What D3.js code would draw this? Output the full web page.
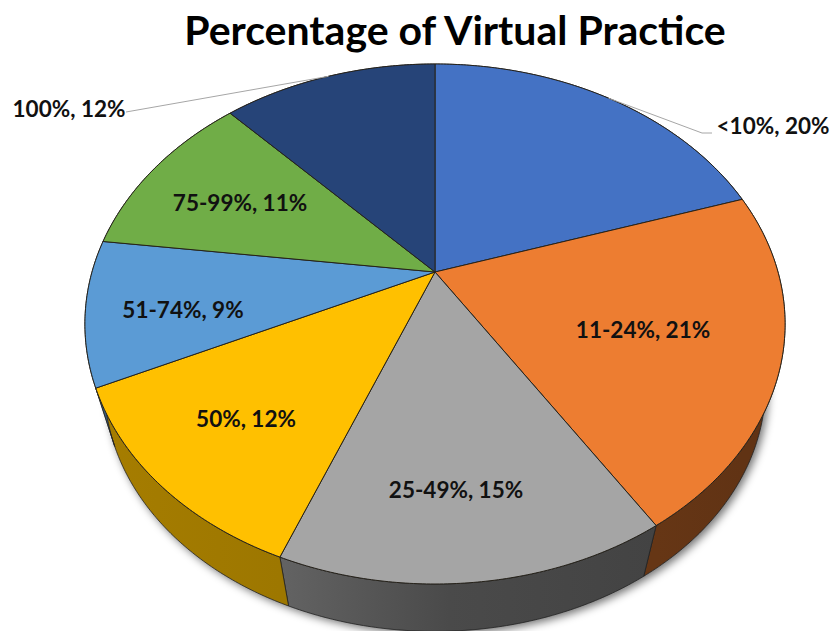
<!DOCTYPE html>
<html><head><meta charset="utf-8">
<script src="https://cdn.jsdelivr.net/npm/d3@7/dist/d3.min.js"></script>
<style>html,body{margin:0;padding:0;background:#fff}svg{display:block}</style>
</head><body><div id="c"></div>
<script>
const title = "Percentage of Virtual Practice";
const categories = ["<10%","11-24%","25-49%","50%","51-74%","75-99%","100%"];
const values = [20,21,15,12,9,11,12];
const colors = ["#4472C4","#ED7D31","#A5A5A5","#FFC000","#5B9BD5","#70AD47","#264478"];
const wallLight = [0.6,0.43,0.6,0.65,0.6,0.6,0.6];

const W=832,H=631;
const cx=435,cy=272,a=343,b=249.6,k=-0.2;
const vpY=1430,wallScale=0.944;
const labelPos=[[773,125],[643,329],[456,489],[246,418],[183,309],[240,202],[69,108]];
const leaderElbow=[[702,133],null,null,null,null,null,[126,112]];

// Unit-circle to screen: perspective projection of the pie's top face
const proj=(t,r=1)=>{const u=r*Math.sin(t),v=-r*Math.cos(t),d=1+k*v;return [cx+a*u/d,cy+b*v/d];};
const lower=p=>[cx+wallScale*(p[0]-cx),vpY+wallScale*(p[1]-vpY)];
const arcPts=(s,e)=>{const n=Math.max(2,Math.ceil((e-s)/0.01));return d3.range(n+1).map(i=>proj(s+(e-s)*i/n));};
const line=d3.line();

const svg=d3.select("#c").append("svg").attr("width",W).attr("height",H);
const defs=svg.append("defs");
const fl=defs.append("filter").attr("id","sh").attr("x","-10%").attr("y","-10%").attr("width","120%").attr("height","120%");
fl.append("feGaussianBlur").attr("stdDeviation",4);
const slices=d3.pie().sort(null).value(d=>d)(values);

slices.forEach((d,i)=>{
  const g=defs.append("linearGradient").attr("id","w"+i).attr("gradientUnits","userSpaceOnUse")
    .attr("x1",proj(d.endAngle)[0]).attr("x2",proj(d.startAngle)[0]).attr("y1",0).attr("y2",0);
  const c=d3.rgb(colors[i]),m=f=>d3.rgb(c.r*f,c.g*f,c.b*f);
  const grayWall=i===2;
  g.append("stop").attr("offset",0).attr("stop-color",m(wallLight[i]));
  g.append("stop").attr("offset",grayWall?0.45:1).attr("stop-color",m(wallLight[i]*(grayWall?0.75:0.95)));
  g.append("stop").attr("offset",1).attr("stop-color",m(wallLight[i]*(grayWall?0.68:0.95)));
});

// soft shadow under the base
svg.append("path")
  .attr("d",line(arcPts(0,2*Math.PI).map(lower))+"Z")
  .attr("transform","translate(3,3)")
  .attr("fill","#000").attr("fill-opacity",0.55).attr("filter","url(#sh)");

// walls
svg.append("g").selectAll("path").data(slices).join("path")
  .attr("d",d=>{const t=arcPts(d.startAngle,d.endAngle);return line(t.concat(t.map(lower).reverse()))+"Z";})
  .attr("fill",(d,i)=>`url(#w${i})`).attr("stroke","#222").attr("stroke-width",0.8).attr("stroke-linejoin","round");

// top faces
svg.append("g").selectAll("path").data(slices).join("path")
  .attr("d",d=>line([[cx,cy]].concat(arcPts(d.startAngle,d.endAngle)))+"Z")
  .attr("fill",(d,i)=>colors[i]).attr("stroke","#26221a").attr("stroke-width",1).attr("stroke-linejoin","round");

// leaders
svg.append("g").selectAll("path").data(slices.filter((d,i)=>leaderElbow[i])).join("path")
  .attr("d",d=>{const i=d.index,m=proj((d.startAngle+d.endAngle)/2),e=leaderElbow[i];
    return line(i===0?[m,e,[e[0]+10,e[1]]]:[m,e]);})
  .attr("fill","none").attr("stroke","#a6a6a6").attr("stroke-width",1);

// labels
svg.append("g").selectAll("text").data(categories).join("text")
  .attr("x",(d,i)=>labelPos[i][0]).attr("y",(d,i)=>labelPos[i][1])
  .attr("text-anchor","middle").attr("dominant-baseline","central")
  .attr("font-family","Lato, 'Open Sans', sans-serif").attr("font-weight",700).attr("font-size",22.5).attr("fill","#111")
  .text((d,i)=>`${d}, ${values[i]}%`);

svg.append("text").attr("x",455).attr("y",29).attr("text-anchor","middle").attr("dominant-baseline","central")
  .attr("font-family","Lato, 'Open Sans', sans-serif").attr("font-weight",700).attr("font-size",41).attr("fill","#000")
  .text(title);
</script></body></html>
